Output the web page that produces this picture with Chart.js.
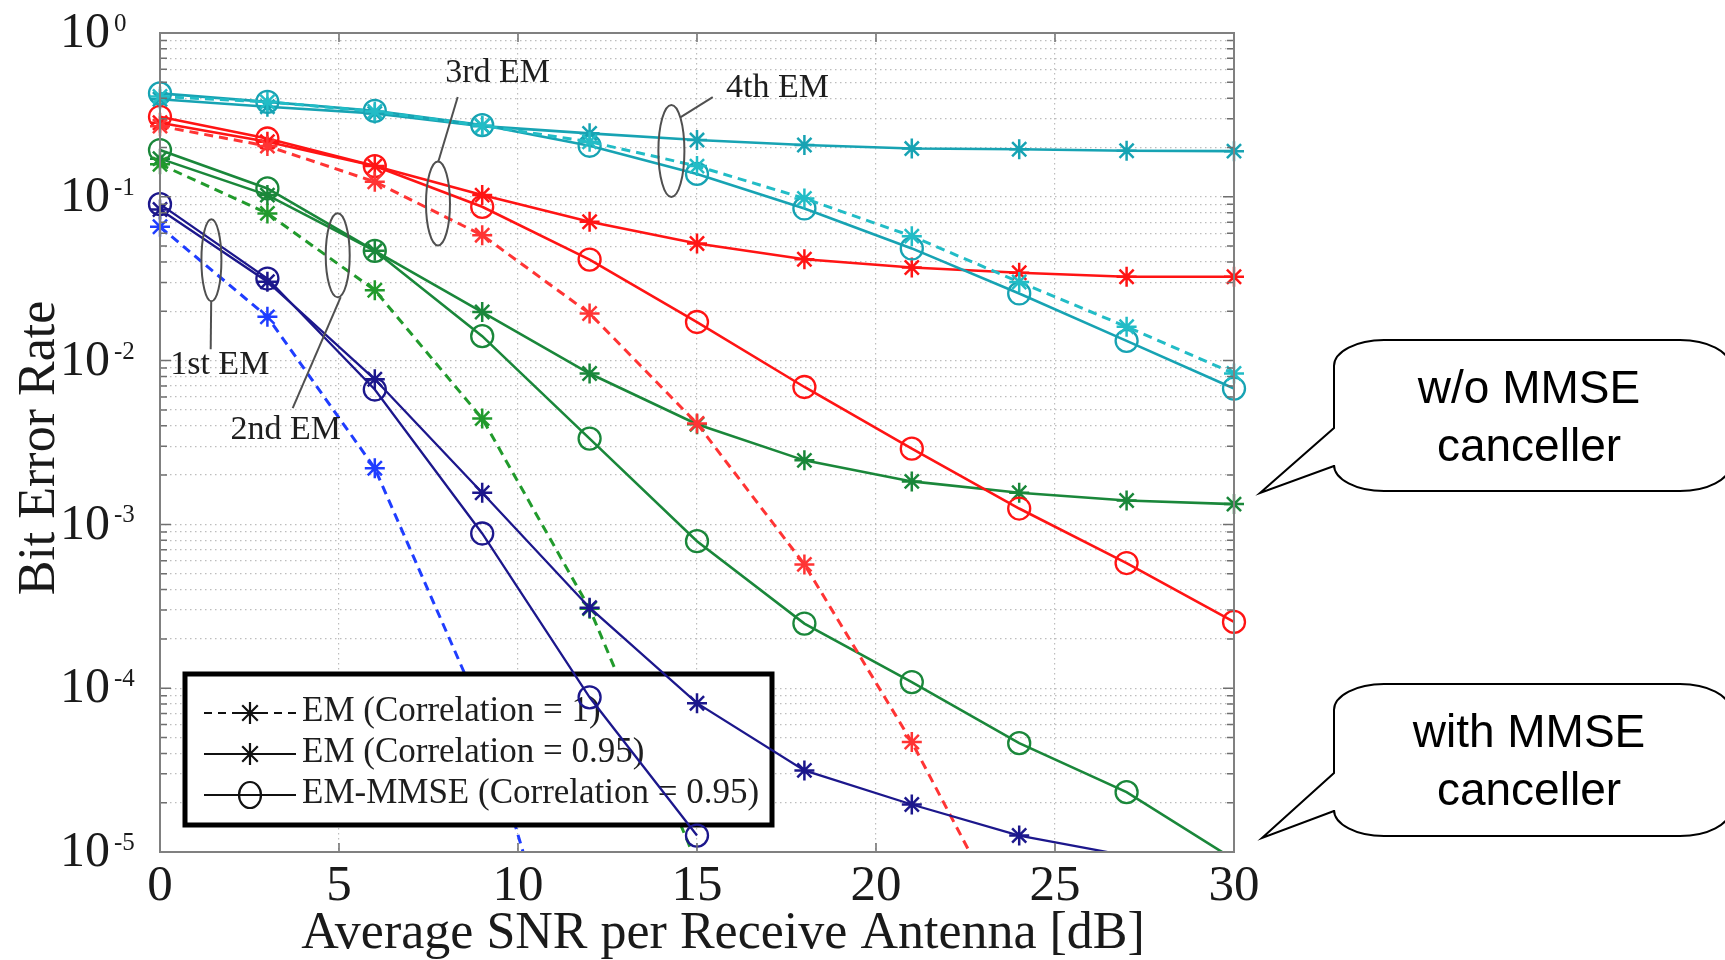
<!DOCTYPE html>
<html>
<head>
<meta charset="utf-8">
<title>BER vs SNR</title>
<script src="https://cdn.jsdelivr.net/npm/chart.js@4.4.1/dist/chart.umd.min.js"></script>
<style>
    html, body { margin: 0; padding: 0; background: #fff; }
    #wrap { position: relative; width: 1725px; height: 960px; }
</style>
</head>
<body>
<div id="wrap"><canvas id="berChart"></canvas></div>
<script>
// SNR points [dB]
const snr = [0, 3, 6, 9, 12, 15, 18, 21, 24, 27, 30];

// 1st EM
const em1Corr1   = [0.0656, 0.0185, 0.0022, 7.0e-5, 4.2e-7, null, null, null, null, null, null];
const em1Corr095 = [0.0837, 0.0303, 0.00769, 0.00156, 3.1e-4, 8.1e-5, 3.15e-5, 1.95e-5, 1.26e-5, 9.5e-6, null];
const em1Mmse    = [0.0902, 0.0317, 0.00666, 8.8e-4, 8.8e-5, 1.26e-5, null, null, null, null, null];
// 2nd EM
const em2Corr1   = [0.158, 0.0792, 0.0269, 0.00443, 3.06e-4, 8.5e-6, null, null, null, null, null];
const em2Corr095 = [0.171, 0.1024, 0.0468, 0.0198, 0.00834, 0.00409, 0.00246, 0.00183, 0.00156, 0.0014, 0.00133];
const em2Mmse    = [0.193, 0.1125, 0.0468, 0.0141, 0.00334, 7.9e-4, 2.48e-4, 1.09e-4, 4.62e-5, 2.32e-5, 9.0e-6];
// 3rd EM
const em3Corr1   = [0.27, 0.204, 0.1235, 0.0583, 0.0194, 0.00413, 5.7e-4, 4.69e-5, 2.66e-6, null, null];
const em3Corr095 = [0.283, 0.217, 0.154, 0.1024, 0.0704, 0.0519, 0.0416, 0.037, 0.0344, 0.0325, 0.0325];
const em3Mmse    = [0.308, 0.227, 0.154, 0.0869, 0.0414, 0.0172, 0.0069, 0.0029, 0.00125, 5.81e-4, 2.54e-4];
// 4th EM
const em4Corr1   = [0.41, 0.38, 0.332, 0.272, 0.217, 0.154, 0.0978, 0.0575, 0.0302, 0.0161, 0.00834];
const em4Corr095 = [0.394, 0.355, 0.323, 0.27, 0.244, 0.222, 0.207, 0.197, 0.195, 0.191, 0.19];
const em4Mmse    = [0.428, 0.38, 0.335, 0.274, 0.205, 0.138, 0.0849, 0.0484, 0.0257, 0.0132, 0.00675];

// axis ticks
const xTicks = [0, 5, 10, 15, 20, 25, 30];
const yTickExps = [0, -1, -2, -3, -4, -5];
const yMinorMult = [1, 2, 3, 4, 5, 6, 7, 8, 9];
const yMin = 1e-5, yMax = 1;

const legendLabels = ['EM (Correlation = 1)', 'EM (Correlation = 0.95)', 'EM-MMSE (Correlation = 0.95)'];

// iteration annotations (data coords)
const stageLabels   = ['1st EM', '2nd EM', '3rd EM', '4th EM'];
const stageLabelAt  = [[1.67, 0.0094], [3.51, 0.00376], [9.43, 0.57], [17.25, 0.461]];
const stageEllipse  = [[1.436, 0.041], [4.964, 0.0439], [7.765, 0.0911], [14.285, 0.1907]];
const stageLeaderA  = [[1.43, 0.0231], [5.047, 0.0244], [7.771, 0.163], [14.545, 0.3068]];
const stageLeaderB  = [[1.416, 0.01174], [3.707, 0.00512], [8.316, 0.4064], [15.44, 0.4064]];

const callouts = [['w/o MMSE', 'canceller'], ['with MMSE', 'canceller']];

const SERIF = '"Liberation Serif", "Times New Roman", serif';
const SANS = '"Liberation Sans", Arial, sans-serif';

const yGridValues = [];
for (let e = -5; e < 0; e++) {
    yMinorMult.forEach(k => yGridValues.push(k * Math.pow(10, e)));
}
yGridValues.push(1);

function series(label, values, color, dashed, marker, onTop) {
    const r = marker === 'circle' ? 11 : 10;
    return {
        label,
        data: snr.map((x, i) => ({ x, y: values[i] })),
        borderColor: color,
        backgroundColor: color,
        borderWidth: dashed ? 3 : (onTop ? 2.3 : 2.6),
        borderDash: dashed ? [9, 6] : [],
        pointStyle: marker,
        // markers below the axis floor are not drawn (like MATLAB)
        pointRadius: (c) => (c.raw && c.raw.y != null && c.raw.y < yMin ? 0 : r),
        pointBorderWidth: marker === 'circle' ? 2.3 : 2.5,
        pointBorderColor: color,
        pointBackgroundColor: marker === 'circle' ? 'rgba(0,0,0,0)' : color,
        tension: 0,
        spanGaps: false,
        clip: { left: 20, top: 20, right: 20, bottom: 0 },
        order: onTop ? 0 : 1,
        aboveLegend: !!onTop,
    };
}

const datasets = [
    series('4th EM corr 1', em4Corr1, '#22bcc6', true, 'star'),
    series('4th EM corr 0.95', em4Corr095, '#17a3b3', false, 'star'),
    series('4th EM-MMSE', em4Mmse, '#17a3b3', false, 'circle'),
    series('3rd EM corr 1', em3Corr1, '#ff3434', true, 'star'),
    series('3rd EM corr 0.95', em3Corr095, '#ff1414', false, 'star'),
    series('3rd EM-MMSE', em3Mmse, '#ff1414', false, 'circle'),
    series('2nd EM corr 1', em2Corr1, '#219a2c', true, 'star'),
    series('2nd EM corr 0.95', em2Corr095, '#1a873a', false, 'star'),
    series('2nd EM-MMSE', em2Mmse, '#1a873a', false, 'circle'),
    series('1st EM corr 1', em1Corr1, '#1f3dff', true, 'star'),
    series('1st EM corr 0.95', em1Corr095, '#1c178c', false, 'star', true),
    series('1st EM-MMSE', em1Mmse, '#1c178c', false, 'circle', true),
];

function drawStar(ctx, x, y, r) {
    ctx.beginPath();
    ctx.moveTo(x, y - r); ctx.lineTo(x, y + r);
    ctx.moveTo(x - r, y); ctx.lineTo(x + r, y);
    const d = r * Math.SQRT1_2;
    ctx.moveTo(x - d, y - d); ctx.lineTo(x + d, y + d);
    ctx.moveTo(x - d, y + d); ctx.lineTo(x + d, y - d);
    ctx.stroke();
}

function drawLegendBox(chart) {
    const ctx = chart.ctx;
    const ca = chart.chartArea;
    const left = ca.left + 25, top = ca.top + 641, w = 587, h = 151;
    ctx.save();
    ctx.fillStyle = '#fff';
    ctx.fillRect(left, top, w, h);
    ctx.lineWidth = 5;
    ctx.strokeStyle = '#000';
    ctx.strokeRect(left, top, w, h);

    const rows = [top + 39, top + 80, top + 121];
    ctx.strokeStyle = '#111';
    ctx.lineWidth = 2.2;
    rows.forEach((ry, i) => {
        ctx.setLineDash(i === 0 ? [8, 6] : []);
        ctx.beginPath();
        ctx.moveTo(left + 19, ry);
        ctx.lineTo(left + 111, ry);
        ctx.stroke();
        ctx.setLineDash([]);
        if (i < 2) {
            drawStar(ctx, left + 65, ry, 11);
        } else {
            ctx.beginPath();
            ctx.ellipse(left + 65, ry, 11, 13, 0, 0, Math.PI * 2);
            ctx.stroke();
        }
    });
    ctx.fillStyle = '#1e1e1e';
    ctx.font = '35px ' + SERIF;
    ctx.textAlign = 'left';
    ctx.textBaseline = 'middle';
    legendLabels.forEach((t, i) => ctx.fillText(t, left + 117, rows[i] - 1));
    ctx.restore();
}

function drawFrame(chart) {
    const ctx = chart.ctx;
    const ca = chart.chartArea;
    const xs = chart.scales.x, ys = chart.scales.y;
    ctx.save();
    ctx.strokeStyle = '#6f6f6f';
    ctx.lineWidth = 1.5;
    ctx.beginPath();
    yGridValues.forEach(v => {
        const y = ys.getPixelForValue(v);
        const len = yTickExps.some(e => Math.abs(Math.log10(v) - e) < 1e-6) ? 11 : 7;
        ctx.moveTo(ca.left, y); ctx.lineTo(ca.left + len, y);
        ctx.moveTo(ca.right, y); ctx.lineTo(ca.right - len, y);
    });
    xTicks.forEach(v => {
        const x = xs.getPixelForValue(v);
        ctx.moveTo(x, ca.bottom); ctx.lineTo(x, ca.bottom - 9);
        ctx.moveTo(x, ca.top); ctx.lineTo(x, ca.top + 9);
    });
    ctx.stroke();
    ctx.strokeStyle = '#808080';
    ctx.lineWidth = 2;
    ctx.strokeRect(ca.left, ca.top, ca.right - ca.left, ca.bottom - ca.top);
    ctx.restore();
}

const ellipseRadii = [[10, 41], [12, 42], [12, 42], [13, 46]];

function drawAnnotations(chart) {
    const ctx = chart.ctx;
    const xs = chart.scales.x, ys = chart.scales.y;
    ctx.save();
    ctx.strokeStyle = '#505050';
    ctx.lineWidth = 2;
    stageEllipse.forEach((p, i) => {
        ctx.beginPath();
        ctx.ellipse(xs.getPixelForValue(p[0]), ys.getPixelForValue(p[1]),
            ellipseRadii[i][0], ellipseRadii[i][1], 0, 0, Math.PI * 2);
        ctx.stroke();
        ctx.beginPath();
        ctx.moveTo(xs.getPixelForValue(stageLeaderA[i][0]), ys.getPixelForValue(stageLeaderA[i][1]));
        ctx.lineTo(xs.getPixelForValue(stageLeaderB[i][0]), ys.getPixelForValue(stageLeaderB[i][1]));
        ctx.stroke();
    });
    ctx.fillStyle = '#1e1e1e';
    ctx.font = '34px ' + SERIF;
    ctx.textAlign = 'center';
    ctx.textBaseline = 'middle';
    stageLabels.forEach((t, i) => {
        ctx.fillText(t, xs.getPixelForValue(stageLabelAt[i][0]), ys.getPixelForValue(stageLabelAt[i][1]));
    });
    ctx.restore();
}

function drawYLabels(chart) {
    const ctx = chart.ctx;
    const ys = chart.scales.y;
    const ca = chart.chartArea;
    ctx.save();
    ctx.fillStyle = '#1a1a1a';
    yTickExps.forEach(e => {
        const y = ys.getPixelForValue(Math.pow(10, e));
        ctx.font = '50px ' + SERIF;
        ctx.textAlign = 'right';
        ctx.textBaseline = 'middle';
        ctx.fillText('10', ca.left - 50, y + 1);
        ctx.font = '25px ' + SERIF;
        ctx.textAlign = 'left';
        ctx.textBaseline = 'alphabetic';
        ctx.fillText(e === 0 ? '0' : String(e), ca.left - 46, y - 2);
    });
    ctx.restore();
}

function drawTitles(chart) {
    const ctx = chart.ctx;
    ctx.save();
    ctx.fillStyle = '#1a1a1a';
    ctx.font = '52px ' + SERIF;
    ctx.textAlign = 'center';
    ctx.textBaseline = 'alphabetic';
    ctx.fillText('Average SNR per Receive Antenna [dB]', 723, 948);
    ctx.translate(54, 448);
    ctx.rotate(-Math.PI / 2);
    ctx.fillText('Bit Error Rate', 0, 0);
    ctx.restore();
}

function bubblePath(ctx, L, T, R, B, rx, ry, tb1, tb2, ax, ay) {
    const k = 0.5523;
    ctx.beginPath();
    ctx.moveTo(L + rx, T);
    ctx.lineTo(R - rx, T);
    ctx.bezierCurveTo(R - rx + rx * k, T, R, T + ry - ry * k, R, T + ry);
    ctx.lineTo(R, B - ry);
    ctx.bezierCurveTo(R, B - ry + ry * k, R - rx + rx * k, B, R - rx, B);
    ctx.lineTo(L + rx, B);
    ctx.bezierCurveTo(L + rx - rx * k, B, L, B - ry + ry * k, L, B - ry);
    ctx.lineTo(L, tb2);
    ctx.lineTo(ax, ay);
    ctx.lineTo(L, tb1);
    ctx.lineTo(L, T + ry);
    ctx.bezierCurveTo(L, T + ry - ry * k, L + rx - rx * k, T, L + rx, T);
    ctx.closePath();
}

function drawCallouts(chart) {
    const ctx = chart.ctx;
    const boxes = [
        { T: 340, B: 491, tb1: 428, tb2: 466, ax: 1260, ay: 493, base: [403, 461] },
        { T: 684, B: 836, tb1: 773, tb2: 811, ax: 1262, ay: 838, base: [747, 805] },
    ];
    ctx.save();
    boxes.forEach((b, i) => {
        bubblePath(ctx, 1334, b.T, 1730, b.B, 50, 26, b.tb1, b.tb2, b.ax, b.ay);
        ctx.fillStyle = '#fff';
        ctx.fill();
        ctx.strokeStyle = '#000';
        ctx.lineWidth = 2;
        ctx.stroke();
        ctx.fillStyle = '#000';
        ctx.font = '46px ' + SANS;
        ctx.textAlign = 'center';
        ctx.textBaseline = 'alphabetic';
        ctx.fillText(callouts[i][0], 1529, b.base[0]);
        ctx.fillText(callouts[i][1], 1529, b.base[1]);
    });
    ctx.restore();
}

const decorations = {
    id: 'decorations',
    beforeDatasetsDraw(chart) { chart.$legendDone = false; },
    beforeDatasetDraw(chart, args) {
        if (!chart.$legendDone && chart.data.datasets[args.index].aboveLegend) {
            drawLegendBox(chart);
            chart.$legendDone = true;
        }
    },
    afterDatasetsDraw(chart) {
        if (!chart.$legendDone) drawLegendBox(chart);
        drawFrame(chart);
        drawAnnotations(chart);
    },
    afterDraw(chart) {
        drawYLabels(chart);
        drawTitles(chart);
        drawCallouts(chart);
    }
};

const gridStyle = { color: '#bdbdbd', lineWidth: 1.2, drawTicks: false };

new Chart(document.getElementById('berChart'), {
    type: 'line',
    data: { datasets },
    options: {
        responsive: true,
        maintainAspectRatio: false,
        animation: false,
        events: [],
        layout: { padding: { top: 33, right: 491, left: 0, bottom: 0 } },
        plugins: { legend: { display: false }, tooltip: { enabled: false } },
        scales: {
            x: {
                type: 'linear',
                min: 0,
                max: 30,
                grid: gridStyle,
                border: { display: false, dash: [1.5, 3.5] },
                ticks: {
                    stepSize: 5,
                    autoSkip: false,
                    maxRotation: 0,
                    padding: 4,
                    color: '#1a1a1a',
                    font: { family: SERIF, size: 51 },
                },
                afterBuildTicks: (scale) => { scale.ticks = xTicks.map(v => ({ value: v })); },
                afterFit: (scale) => { scale.height = 108; },
            },
            y: {
                type: 'logarithmic',
                min: yMin,
                max: yMax,
                grid: gridStyle,
                border: { display: false, dash: [1.5, 3.5] },
                ticks: { display: false },
                afterBuildTicks: (scale) => { scale.ticks = yGridValues.map(v => ({ value: v })); },
                afterFit: (scale) => { scale.width = 160; },
            }
        }
    },
    plugins: [decorations]
});
</script>
</body>
</html>
